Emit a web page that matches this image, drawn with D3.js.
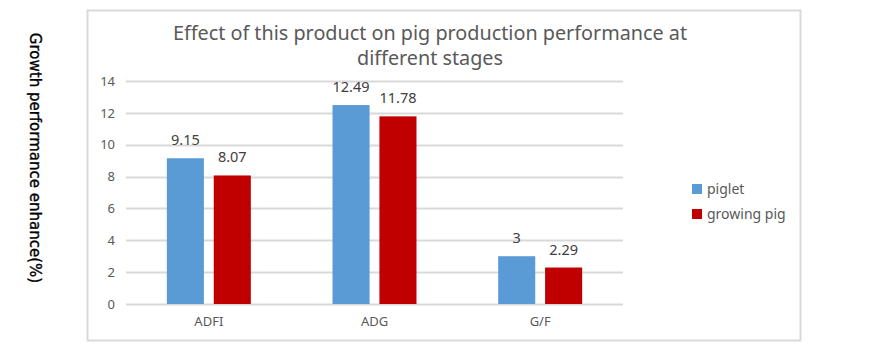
<!DOCTYPE html>
<html>
<head>
<meta charset="utf-8">
<script src="https://cdn.jsdelivr.net/npm/d3@7"></script>
<style>
  body { margin: 0; background: #fff; }
  text { font-family: "Noto Sans", "Open Sans", sans-serif; }
</style>
</head>
<body>
<div class="container"></div>
<script>
const width = 885;
const height = 358;

// dados
const categories = ['ADFI', 'ADG', 'G/F'];
const series = ['piglet', 'growing pig'];
const piglet = [9.15, 12.49, 3];
const growingPig = [8.07, 11.78, 2.29];
const yTicks = [0, 2, 4, 6, 8, 10, 12, 14];
const colors = ['#5b9bd5', '#c00000'];

const plot = { left: 126, right: 623, top: 81, bottom: 304 };

const svg = d3.select('.container')
  .append('svg')
  .attr('width', width)
  .attr('height', height);

// moldura do gráfico
svg.append('rect')
  .attr('x', 87.5)
  .attr('y', 10.5)
  .attr('width', 713)
  .attr('height', 330)
  .attr('fill', '#fff')
  .attr('stroke', '#d9d9d9')
  .attr('stroke-width', 2);

const x0 = d3.scaleBand()
  .domain(categories)
  .range([plot.left, plot.right])
  .paddingInner(0.493)
  .paddingOuter(0.2465);

const x1 = d3.scaleBand()
  .domain(series)
  .range([0, x0.bandwidth()])
  .paddingInner(0.21);

const y = d3.scaleLinear()
  .domain([0, 14])
  .range([plot.bottom, plot.top]);

// grade
svg.append('g')
  .selectAll('line')
  .data(yTicks)
  .enter()
  .append('line')
  .attr('x1', plot.left)
  .attr('x2', plot.right)
  .attr('y1', d => Math.round(y(d)) + 0.5)
  .attr('y2', d => Math.round(y(d)) + 0.5)
  .attr('stroke', '#d9d9d9')
  .attr('stroke-width', 2);

// eixo y
const yAxis = svg.append('g')
  .attr('transform', `translate(${plot.left}, 0)`)
  .call(d3.axisLeft(y).tickValues(yTicks).tickSize(0).tickPadding(11));
yAxis.select('.domain').remove();
yAxis.selectAll('text')
  .attr('fill', '#595959')
  .style('font-size', '13px');

// eixo x
const xAxis = svg.append('g')
  .attr('transform', `translate(0, ${plot.bottom})`)
  .call(d3.axisBottom(x0).tickSize(0).tickPadding(13));
xAxis.select('.domain').remove();
xAxis.selectAll('text')
  .attr('fill', '#595959')
  .style('font-size', '13px');

// barras
const table = categories.map((c, i) => ({
  cat: c,
  vals: [
    { s: series[0], v: piglet[i], c: colors[0] },
    { s: series[1], v: growingPig[i], c: colors[1] }
  ]
}));

const groups = svg.append('g')
  .selectAll('g')
  .data(table)
  .enter()
  .append('g')
  .attr('transform', d => `translate(${x0(d.cat)}, 0)`);

groups.selectAll('rect')
  .data(d => d.vals)
  .enter()
  .append('rect')
  .attr('x', d => x1(d.s))
  .attr('y', d => y(d.v))
  .attr('width', x1.bandwidth())
  .attr('height', d => y(0) - y(d.v))
  .attr('fill', d => d.c);

groups.selectAll('text')
  .data(d => d.vals)
  .enter()
  .append('text')
  .attr('x', d => x1(d.s) + x1.bandwidth() / 2)
  .attr('y', d => y(d.v) - 13)
  .attr('text-anchor', 'middle')
  .attr('fill', '#404040')
  .style('font-size', '14.5px')
  .text(d => d.v);

// título
const title = svg.append('text')
  .attr('x', 430)
  .attr('text-anchor', 'middle')
  .attr('fill', '#595959')
  .style('font-size', '19.8px');
title.append('tspan').attr('x', 430).attr('y', 40)
  .text('Effect of this product on pig production performance at');
title.append('tspan').attr('x', 430).attr('y', 65)
  .text('different stages');

// legenda
const legenda = svg.append('g')
  .attr('transform', 'translate(692, 184)');
series.forEach((s, i) => {
  legenda.append('rect')
    .attr('x', 0)
    .attr('y', i * 25)
    .attr('width', 10)
    .attr('height', 10)
    .attr('fill', colors[i]);
  legenda.append('text')
    .attr('x', 15)
    .attr('y', i * 25 + 10)
    .attr('fill', '#595959')
    .style('font-size', '14px')
    .text(s);
});

// título do eixo y
svg.append('text')
  .attr('transform', 'translate(30, 158) rotate(90)')
  .attr('text-anchor', 'middle')
  .attr('fill', '#000')
  .attr('stroke', '#000')
  .attr('stroke-width', 0.35)
  .style('font-family', '"DejaVu Sans", sans-serif')
  .style('font-size', '15px')
  .text('Growth performance enhance(%)');
</script>
</body>
</html>
